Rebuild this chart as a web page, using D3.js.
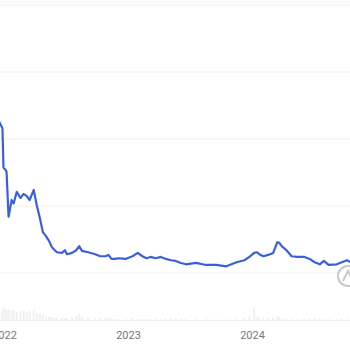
<!DOCTYPE html>
<html>
<head>
<meta charset="utf-8">
<script src="https://cdn.jsdelivr.net/npm/d3@7"></script>
<style>
  html, body { margin: 0; padding: 0; background: #fff; }
  svg { display: block; }
</style>
</head>
<body>
<script>
// price series (dates + values)
const dates = [
  '2021-12-08', '2021-12-17', '2021-12-26', '2021-12-29', '2022-01-04', '2022-01-07',
  '2022-01-13', '2022-01-22', '2022-01-28', '2022-02-06', '2022-02-17', '2022-02-26',
  '2022-03-07', '2022-03-16', '2022-03-28', '2022-04-06', '2022-04-15', '2022-04-24',
  '2022-05-03', '2022-05-12', '2022-05-20', '2022-05-29', '2022-06-04', '2022-06-19',
  '2022-06-28', '2022-07-04', '2022-07-19', '2022-07-31', '2022-08-09', '2022-08-17',
  '2022-09-04', '2022-09-25', '2022-10-10', '2022-10-25', '2022-11-03', '2022-11-12',
  '2022-11-23', '2022-12-02', '2022-12-23', '2023-01-13', '2023-01-28', '2023-02-11',
  '2023-02-23', '2023-03-07', '2023-03-22', '2023-04-06', '2023-04-21', '2023-05-06',
  '2023-05-20', '2023-06-04', '2023-06-19', '2023-07-19', '2023-08-17', '2023-09-16',
  '2023-10-16', '2023-11-15', '2023-12-08', '2023-12-23', '2024-01-06', '2024-01-15',
  '2024-01-21', '2024-02-02', '2024-02-16', '2024-03-02', '2024-03-14', '2024-03-20',
  '2024-03-29', '2024-04-10', '2024-04-25', '2024-05-12', '2024-06-02', '2024-06-17',
  '2024-07-02', '2024-07-17', '2024-07-29', '2024-08-12', '2024-09-05', '2024-09-20',
  '2024-10-05', '2024-10-20', '2024-11-03'
];
const prices = [
  22.8, 22.5, 21.6, 15.7, 15.4, 15.1,
  8.4, 10.9, 10.4, 12.1, 11.2, 11.8,
  11.5, 10.9, 12.4, 10.1, 8.2, 6.1,
  5.5, 4.8, 3.9, 3.4, 3.1, 3.0,
  3.4, 2.8, 3.0, 3.4, 4.0, 3.3,
  3.1, 2.8, 2.5, 2.5, 2.7, 2.1,
  2.1, 2.2, 2.1, 2.5, 3.0, 2.5,
  2.2, 2.4, 2.2, 2.4, 2.1, 1.9,
  1.8, 1.5, 1.3, 1.5, 1.2, 1.2,
  1.0, 1.6, 1.9, 2.4, 3.0, 3.1,
  2.8, 2.5, 2.7, 3.0, 4.6, 4.5,
  3.9, 3.4, 2.5, 2.4, 2.4, 2.1,
  1.6, 1.3, 1.8, 1.2, 1.3, 1.6,
  1.9, 1.5, 1.6
];
// faint volume bars along the bottom
const volumes = [
  9, 10, 8, 12, 10, 9,
  11, 9, 10, 8, 9, 10,
  8, 9, 11, 7, 6, 5,
  4, 3, 3, 2, 2, 2,
  2, 2, 3, 4, 7, 3,
  2, 2, 2, 2, 2, 2,
  1, 1, 1, 2, 1, 1,
  1, 1, 1, 1, 1, 1,
  1, 1, 1, 1, 1, 1,
  1, 1, 2, 4, 13, 3,
  2, 2, 2, 2, 4, 3,
  2, 2, 1, 1, 1, 1,
  1, 1, 1, 1, 1, 1,
  1, 1, 1
];
const xTicks = ['2022-01-01', '2023-01-01', '2024-01-01'];
const xTickLabels = ['2022', '2023', '2024'];
const yTicks = [0, 10, 20, 30, 40];

const width = 350;
const height = 350;
const parse = d3.timeParse('%Y-%m-%d');

const data = dates.map((d, i) => ({ date: parse(d), price: prices[i], vol: volumes[i] }));

const x = d3.scaleTime()
  .domain([parse('2022-01-01'), parse('2024-01-01')])
  .range([4.5, 252.5]);

const y = d3.scaleLinear()
  .domain([0, 40])
  .range([273, 5]);

const yVol = d3.scaleLinear()
  .domain([0, 14])
  .range([320, 306]);

const svg = d3.select('body').append('svg')
  .attr('width', width)
  .attr('height', height)
  .attr('viewBox', `0 0 ${width} ${height}`);

// top border line
svg.append('line')
  .attr('x1', 0).attr('x2', width)
  .attr('y1', 2).attr('y2', 2)
  .attr('stroke', '#f2f2f2')
  .attr('stroke-width', 1);

// gridlines
svg.append('g')
  .selectAll('line')
  .data(yTicks)
  .join('line')
  .attr('x1', 0).attr('x2', width)
  .attr('y1', d => y(d)).attr('y2', d => y(d))
  .attr('stroke', '#efefef')
  .attr('stroke-width', 1);

// volume bars
svg.append('g')
  .selectAll('rect')
  .data(data)
  .join('rect')
  .attr('x', d => x(d.date) - 1)
  .attr('width', 2)
  .attr('y', d => yVol(d.vol))
  .attr('height', d => yVol(0) - yVol(d.vol))
  .attr('fill', '#f0f0f0');

// baseline
svg.append('line')
  .attr('x1', 0).attr('x2', width)
  .attr('y1', 320.5).attr('y2', 320.5)
  .attr('stroke', '#f0f0f0')
  .attr('stroke-width', 1);

// x labels (the first one is cut by the left edge, as in the source)
svg.append('g')
  .selectAll('text')
  .data(xTicks)
  .join('text')
  .attr('x', d => x(parse(d)))
  .attr('y', 339)
  .attr('text-anchor', 'middle')
  .attr('font-family', 'Roboto, "Noto Sans", sans-serif')
  .attr('font-size', 11)
  .attr('fill', '#777')
  .text((d, i) => xTickLabels[i]);

// price line
const line = d3.line()
  .x(d => x(d.date))
  .y(d => y(d.price));

svg.append('path')
  .datum(data)
  .attr('d', line)
  .attr('fill', 'none')
  .attr('stroke', '#3a5fdd')
  .attr('stroke-width', 2.2)
  .attr('stroke-linejoin', 'round');

// watermark badge, bottom right
const badge = svg.append('g').attr('transform', 'translate(348,276)');
badge.append('circle')
  .attr('r', 10)
  .attr('fill', 'rgba(255,255,255,0.8)')
  .attr('stroke', '#c9c9c9')
  .attr('stroke-width', 2);
badge.append('path')
  .attr('d', 'M-5,5 L0,-5 L5,5')
  .attr('fill', 'none')
  .attr('stroke', '#c9c9c9')
  .attr('stroke-width', 2);
</script>
</body>
</html>
